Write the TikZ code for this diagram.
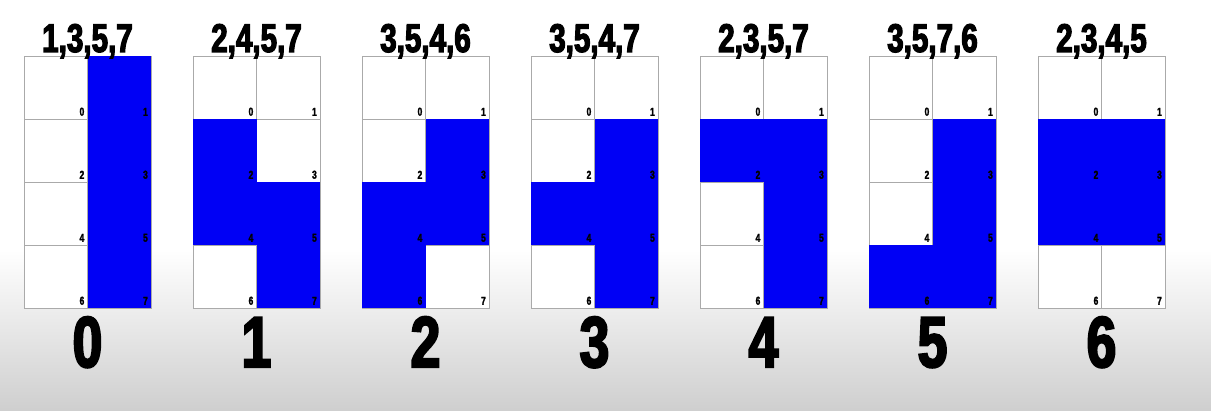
\documentclass[tikz,border=0pt]{standalone}
\usepackage{fontspec}
\newfontfamily\imp{Liberation Sans}[FakeStretch=0.74,BoldFeatures={FakeBold=3}]
\newfontfamily\impsmall{Liberation Sans}[FakeStretch=0.74,BoldFeatures={FakeBold=2}]
\definecolor{cellblue}{RGB}{0,0,245}
\definecolor{gridgray}{RGB}{170,170,170}
\tikzset{
  cellbox/.style={draw=gridgray, line width=0.9pt, fill=white, inner sep=0pt, outer sep=0pt,
                  minimum width=63.5pt, minimum height=63pt},
  lbl/.style={font=\impsmall\bfseries\fontsize{11.5}{11.5}\selectfont, inner sep=0pt, anchor=south east},
  ttl/.style={font=\imp\bfseries\fontsize{40}{40}\selectfont, inner sep=0pt, anchor=base},
  bignum/.style={font=\imp\bfseries\fontsize{72}{72}\selectfont, inner sep=0pt, anchor=base}
}
\begin{document}
\begin{tikzpicture}[x=1pt,y=-1pt]
\useasboundingbox (0,0) rectangle (1211,411);
\fill[white] (0,0) rectangle (1211,250);
\shade[top color=white,bottom color=black!19] (0,250) rectangle (1211,411);
\foreach \g/\ttext/\cells in {0/{1,3,5,7}/{1,3,5,7},1/{2,4,5,7}/{2,4,5,7},2/{3,5,4,6}/{3,5,4,6},3/{3,5,4,7}/{3,5,4,7},4/{2,3,5,7}/{2,3,5,7},5/{3,5,7,6}/{3,5,7,6},6/{2,3,4,5}/{2,3,4,5}}{
  \pgfmathsetmacro\xl{24+169*\g}
  \foreach \c in {0,...,7}{
    \node[cellbox] (g\g c\c) at ({\xl+31.75+63.5*mod(\c,2)},{87.5+63*int(\c/2)}) {};
  }
  \foreach \b in \cells{
    \fill[cellblue] (g\g c\b.north west) rectangle (g\g c\b.south east);
  }
  \foreach \c in {0,...,7}{
    \node[lbl] (l\g c\c) at ([xshift=-3pt,yshift=3pt]g\g c\c.south east) {\c};
  }
  \node[ttl] (t\g) at ({\xl+63.5},52) {\ttext};
  \node[bignum] (n\g) at ({\xl+63.5},367) {\g};
}
\end{tikzpicture}
\end{document}
